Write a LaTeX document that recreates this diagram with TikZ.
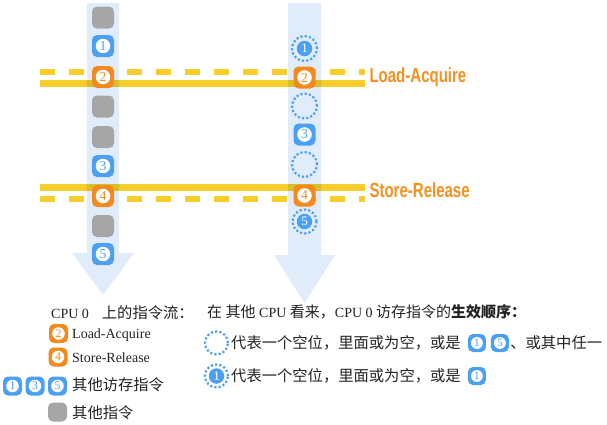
\documentclass[tikz,border=0pt]{standalone}
\usepackage{fontspec}
\setmainfont{Liberation Serif}
\newfontfamily\cjk{Noto Sans CJK SC}
\newfontfamily\lblfont{Liberation Sans}
\usetikzlibrary{calc}
\definecolor{shaftc}{HTML}{E1ECFA}
\definecolor{yel}{HTML}{F5CE2C}
\definecolor{orgbox}{HTML}{F28A1E}
\definecolor{orglbl}{HTML}{F39020}
\definecolor{blbox}{HTML}{4BA0F2}
\definecolor{grbox}{HTML}{A6A6A6}
\definecolor{txt}{HTML}{222222}
% name, position, colour, digit, size
\newcommand\nbox[5]{%
  \pgfmathsetmacro\nbfs{0.62*#5}%
  \pgfmathsetmacro\nbcs{0.66*#5}%
  \node[ibox, fill=#3, minimum size=#5pt] (#1) at (#2) {};
  \node[circle, fill=white, inner sep=0pt, minimum size=\nbcs pt,
        text=#3, font=\fontsize{\nbfs}{10}\selectfont] (#1c) at (#1.center) {#4};}
\newcommand\gbox[3]{%
  \node[ibox, fill=grbox, minimum size=#3pt] (#1) at (#2) {};}
% name, position, digit (empty for none), size
\newcommand\dring[4]{%
  \node[ring, minimum size=#4pt] (#1) at (#2) {};
  \ifx\relax#3\relax\else
  \node[circle, fill=blbox, inner sep=0pt, minimum size=15.5pt, text=white,
        font=\fontsize{13}{13}\selectfont] (#1c) at (#1.center) {#3};\fi}
\begin{document}
\begin{tikzpicture}[x=1pt,y=-1pt,
  ibox/.style={rounded corners=5pt, inner sep=0pt, draw=none},
  ring/.style={circle, draw=blbox, line width=2.2pt, dash pattern=on 2.2pt off 2.1pt, inner sep=0pt},
  yline/.style={draw=yel, line width=7pt},
  ydash/.style={draw=yel, line width=6pt, dash pattern=on 15pt off 14pt},
  shaft/.style={fill=shaftc},
  lbl/.style={anchor=west, text=orglbl, font=\lblfont\bfseries\fontsize{19.5}{20}\selectfont},
  legtxt/.style={anchor=west, text=txt, font=\fontsize{14}{16}\selectfont, inner sep=0pt},
  cjktxt/.style={anchor=west, text=txt, font=\cjk\fontsize{15.3}{17}\selectfont, inner sep=0pt}]
\useasboundingbox (0,0) rectangle (607,424);

% barrier lines
\draw[ydash] (40,72) -- (365,72);
\draw[yline] (40,83.5) -- (365,83.5);
\draw[yline] (40,187) -- (365,187);
\draw[ydash] (40,199) -- (365,199);

% flow arrows
\begin{scope}[blend mode=multiply]
\fill[shaft] (87,3) -- (119,3) -- (119,253) -- (134,253) -- (103,295) -- (72,253) -- (87,253) -- cycle;
\fill[shaft] (288,3) -- (321,3) -- (321,255) -- (335,255) -- (304.5,303) -- (274,255) -- (288,255) -- cycle;
\end{scope}

% labels
\node[lbl] (la) at (366,77) {\scalebox{0.77}[1.05]{Load-Acquire}};
\node[lbl] (sr) at (366,190) {\scalebox{0.77}[1.05]{Store-Release}};

% left column
\gbox{a1}{103,17.5}{22}
\nbox{a2}{103,46}{blbox}{1}{22}
\nbox{a3}{103,77}{orgbox}{2}{22}
\gbox{a4}{103,106.5}{22}
\gbox{a5}{103,137}{22}
\nbox{a6}{103,166}{blbox}{3}{22}
\nbox{a7}{103,196}{orgbox}{4}{22}
\gbox{a8}{103,226}{22}
\nbox{a9}{103,254}{blbox}{5}{22}

% right column
\dring{b1}{304.5,48.5}{1}{25}
\nbox{b2}{304.5,77.5}{orgbox}{2}{22}
\dring{b3}{304.5,106}{}{25}
\nbox{b4}{304.5,134.5}{blbox}{3}{22}
\dring{b5}{304.5,164.5}{}{25}
\nbox{b6}{304.5,195.5}{orgbox}{4}{22}
\dring{b7}{304.5,221.5}{5}{24}

% left legend
\node[legtxt] (l0) at (51,313) {CPU 0\hspace{13pt}{\cjk\fontsize{15.3}{17}\selectfont 上的指令流：}};
\nbox{k2}{58.5,333.5}{orgbox}{2}{19}
\node[legtxt] (t2) at (72,335) {Load-Acquire};
\nbox{k4}{58,357}{orgbox}{4}{19}
\node[legtxt] (t4) at (72,358) {Store-Release};
\nbox{k1}{12.5,386}{blbox}{1}{19}
\nbox{k3}{35,386}{blbox}{3}{19}
\nbox{k5}{57.5,386}{blbox}{5}{19}
\node[cjktxt] (t135) at (72,385) {其他访存指令};
\gbox{kg}{57.5,412}{19}
\node[cjktxt] (tg) at (72,413) {其他指令};

% right legend
\node[legtxt] (r0) at (207,312) {{\cjk\fontsize{15}{17}\selectfont 在} {\cjk\fontsize{15}{17}\selectfont 其他} CPU {\cjk\fontsize{15}{17}\selectfont 看来，}CPU 0 {\cjk\fontsize{15}{17}\selectfont 访存指令的\bfseries 生效顺序：}};
\dring{r1}{216.5,343}{}{23}
\node[cjktxt] (r1t) at (231,343) {代表一个空位，里面或为空，或是};
\nbox{r1a}{$(r1t.east)+(16,0)$}{blbox}{1}{18}
\nbox{r1b}{$(r1a.center)+(23,0)$}{blbox}{5}{18}
\node[cjktxt] (r1u) at ($(r1b.east)+(1,0)$) {、或其中任一};
\dring{r2}{216.5,376}{1}{23}
\node[cjktxt] (r2t) at (231,376) {代表一个空位，里面或为空，或是};
\nbox{r2a}{$(r2t.east)+(16,0)$}{blbox}{1}{18}
\end{tikzpicture}
\end{document}
